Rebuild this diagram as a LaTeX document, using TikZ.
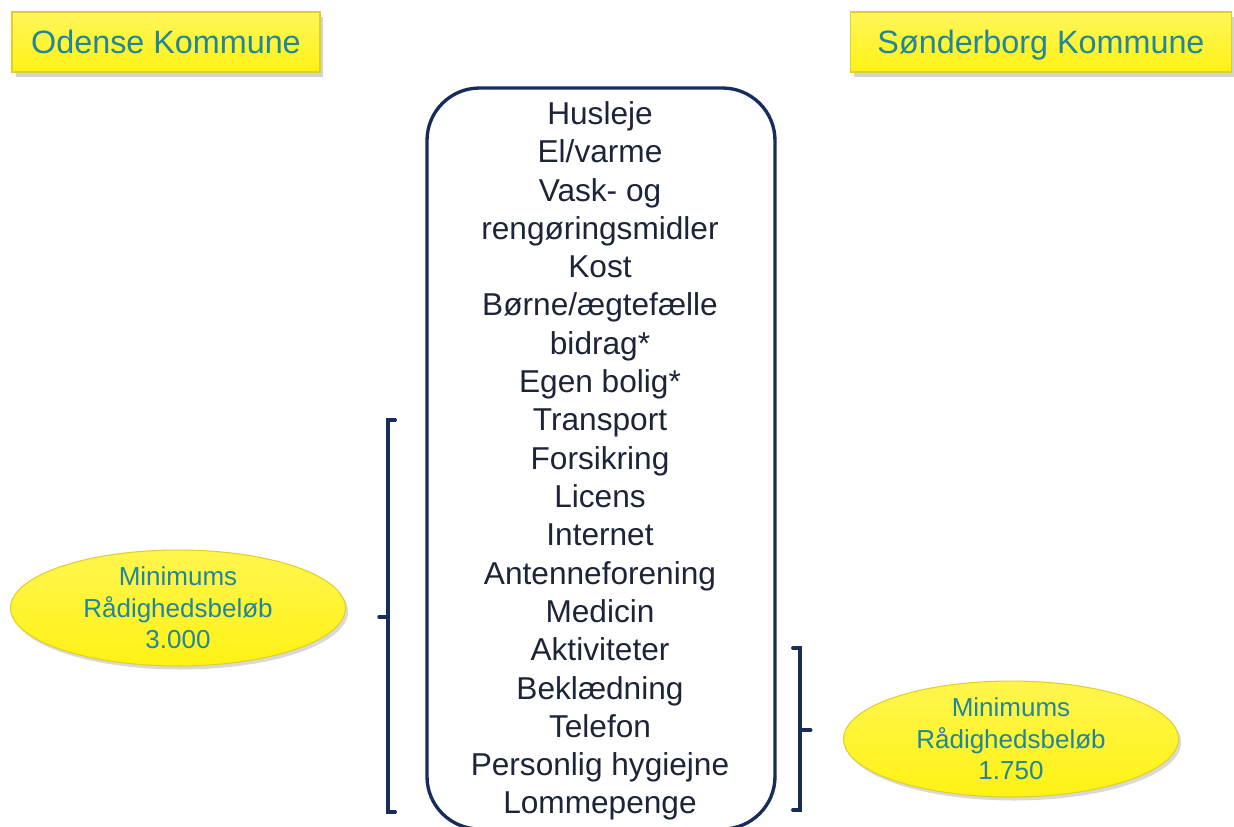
\documentclass[tikz,border=0pt]{standalone}
\usepackage{fontspec}
\setmainfont{Liberation Sans}
\usetikzlibrary{shapes.geometric,shadows}
\definecolor{navyline}{RGB}{22,45,92}
\definecolor{itemtext}{RGB}{28,36,56}
\definecolor{kommunetext}{RGB}{32,134,156}
\definecolor{boxyellow}{RGB}{255,242,20}
\definecolor{boxedge}{RGB}{226,206,40}

\begin{document}
\begin{tikzpicture}[x=0.02cm,y=-0.02cm,
  kommune/.style={rectangle,draw=boxedge,line width=0.8pt,top color=boxyellow!70!white,bottom color=boxyellow,
    drop shadow={shadow xshift=2pt,shadow yshift=-3pt,opacity=0.35},
    minimum height=1.2cm,inner sep=0pt,text height=14pt,text depth=1pt,text=kommunetext,
    font=\fontsize{18.4}{22}\selectfont},
  minbeloeb/.style={ellipse,draw=boxedge,line width=0.6pt,top color=boxyellow!75!white,bottom color=boxyellow,
    drop shadow={shadow xshift=1.5pt,shadow yshift=-2pt,opacity=0.3},
    minimum width=6.7cm,minimum height=2.12cm,inner sep=0pt,align=center,text=kommunetext,
    font=\fontsize{14.8}{17.9}\selectfont},
  bracket/.style={draw=navyline,line width=2.2pt,line cap=round}]
\useasboundingbox (0,0) rectangle (1234,826);

\node[kommune,minimum width=6.16cm] (odense) at (166,42) {Odense Kommune};
\node[kommune,minimum width=7.62cm] (sonderborg) at (1041,42) {Sønderborg Kommune};

%list of expenses
\draw[navyline,line width=1.9pt,rounded corners=1.05cm] (427,88) rectangle (775,829);
\node[align=center,inner sep=0pt,text=itemtext,font=\fontsize{18}{21.8}\selectfont] (items) at (600,461)
  {Husleje\\El/varme\\Vask- og\\rengøringsmidler\\Kost\\Børne/ægtefælle\\bidrag*\\Egen bolig*\\Transport\\Forsikring\\Licens\\Internet\\Antenneforening\\Medicin\\Aktiviteter\\Beklædning\\Telefon\\Personlig hygiejne\\Lommepenge};

%brackets
\coordinate (lefttop) at (388,420);
\coordinate (leftbot) at (388,812);
\coordinate (leftmid) at (388,617);
\draw[bracket] ([xshift=4]lefttop) -- (lefttop) -- (leftbot) -- ([xshift=4]leftbot);
\draw[bracket] (leftmid) -- ([xshift=-5]leftmid);

\coordinate (righttop) at (800,648);
\coordinate (rightbot) at (800,810);
\coordinate (rightmid) at (800,730);
\draw[bracket] ([xshift=-4]righttop) -- (righttop) -- (rightbot) -- ([xshift=-4]rightbot);
\draw[bracket] (rightmid) -- ([xshift=6]rightmid);

%minimum amounts
\node[minbeloeb] (minodense) at (178,608) {Minimums\\Rådighedsbeløb\\3.000};
\node[minbeloeb] (minsonderborg) at (1011,739) {Minimums\\Rådighedsbeløb\\1.750};
\end{tikzpicture}
\end{document}
